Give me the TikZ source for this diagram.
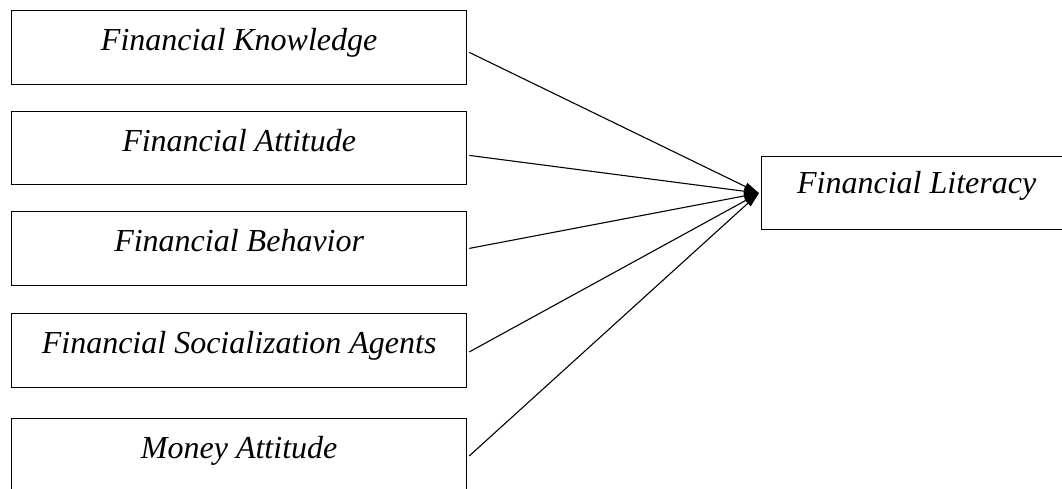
\documentclass[tikz,border=0pt]{standalone}
\usepackage{fontspec}
\setmainfont{Liberation Serif}[ItalicFont={Liberation Serif Italic}]
\usetikzlibrary{arrows.meta}
\begin{document}
\begin{tikzpicture}[x=1pt,y=-1pt,
  box/.style={draw,line width=1.3pt,inner sep=0pt,minimum width=455pt,
    text height=40pt,text depth=33.5pt,font=\fontsize{32}{38}\selectfont\itshape},
  litbox/.style={draw,line width=1.3pt,inner sep=0pt,minimum width=310pt,
    text height=37pt,text depth=36pt,font=\fontsize{32}{38}\selectfont\itshape},
  link/.style={line width=1.1pt,-{Triangle[length=15pt,width=8pt]}}]
\useasboundingbox (0,0) rectangle (1062,488);
\clip (0,0) rectangle (1062,488);
\node[box,anchor=north west] (k) at (11,10) {Financial Knowledge};
\node[box,anchor=north west] (a) at (11,110.5) {Financial Attitude};
\node[box,anchor=north west] (b) at (11,211) {Financial Behavior};
\node[box,anchor=north west] (s) at (11,313) {Financial Socialization Agents};
\node[box,anchor=north west] (m) at (11,418) {Money Attitude};
\node[litbox,anchor=north west] (l) at (761,156) {Financial Literacy};
\draw[link] ([xshift=2pt,yshift=-5pt]k.east) -- ([xshift=-2pt]l.west);
\draw[link] ([xshift=2pt,yshift=-7.5pt]a.east) -- ([xshift=-2pt]l.west);
\draw[link] ([xshift=2pt,yshift=0pt]b.east) -- ([xshift=-2pt]l.west);
\draw[link] ([xshift=2pt,yshift=-1.5pt]s.east) -- ([xshift=-2pt]l.west);
\draw[link] ([xshift=2pt,yshift=-0.5pt]m.east) -- ([xshift=-2pt]l.west);
\end{tikzpicture}
\end{document}
